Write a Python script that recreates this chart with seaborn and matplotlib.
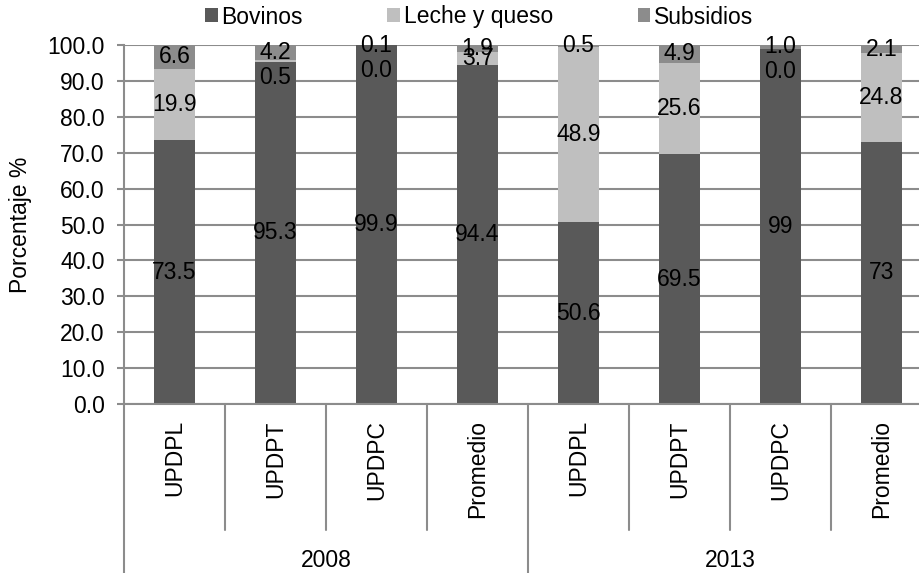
import numpy as np
import pandas as pd
import matplotlib
matplotlib.use("Agg")
import matplotlib.pyplot as plt
from matplotlib.patches import Patch
import seaborn as sns

# data
years = ["2008", "2013"]
units = ["UPDPL", "UPDPT", "UPDPC", "Promedio"]
bovinos = [73.5, 95.3, 99.9, 94.4, 50.6, 69.5, 99.0, 73.0]
bovinos_labels = ["73.5", "95.3", "99.9", "94.4", "50.6", "69.5", "99", "73"]
leche = [19.9, 0.5, 0.0, 3.7, 48.9, 25.6, 0.0, 24.8]
subsidios = [6.6, 4.2, 0.1, 1.9, 0.5, 4.9, 1.0, 2.1]
series_names = ["Bovinos", "Leche y queso", "Subsidios"]
colors = ["#595959", "#bfbfbf", "#8c8c8c"]
grid_color = "#8c8c8c"

sns.set_style("white")
plt.rcParams['font.family'] = ['Liberation Sans', 'DejaVu Sans']
plt.rcParams['text.color'] = 'black'
plt.rcParams['ytick.labelcolor'] = 'black'
fs = 16.5

keys = [y + " " + u for y in years for u in units]
df = pd.DataFrame({"key": keys, "Bovinos": bovinos, "Leche": leche, "Subsidios": subsidios})
df["top1"] = df["Bovinos"]
df["top2"] = df["Bovinos"] + df["Leche"]
df["top3"] = df["top2"] + df["Subsidios"]

fig = plt.figure(figsize=(9.2, 5.73), dpi=100)
ax = fig.add_axes([124 / 920, 169 / 573, 808 / 920, 359 / 573])

# stacked look: draw cumulative totals from the tallest down
for col, c in zip(["top3", "top2", "top1"], colors[::-1]):
    sns.barplot(data=df, x="key", y=col, order=keys, color=c, width=0.4,
                saturation=1, errorbar=None, linewidth=0, ax=ax, zorder=2)

ax.set_xlim(-0.5, 7.5)
ax.set_ylim(0, 100)
ax.set_yticks(np.arange(0, 101, 10))
ax.set_yticklabels([f"{v:.1f}" for v in np.arange(0, 101, 10)], fontsize=fs, color="black")
ax.yaxis.grid(True, color=grid_color, linewidth=1.5)
ax.set_axisbelow(True)
ax.tick_params(axis="y", length=5, width=1.5, color=grid_color, pad=9, left=True)
ax.tick_params(axis="x", length=0, labelbottom=False)
ax.set_xlabel("")
ax.set_ylabel("")
for s in ["top", "right"]:
    ax.spines[s].set_visible(False)
for s in ["left", "bottom"]:
    ax.spines[s].set_color(grid_color)
    ax.spines[s].set_linewidth(1.5)

# segment labels
for i in range(len(keys)):
    b, l, s = bovinos[i], leche[i], subsidios[i]
    y_b = b / 2
    y_l = b + l / 2
    y_s = b + l + s / 2
    if l < 1:
        y_l = y_s - 7
    ax.text(i, y_b, bovinos_labels[i], ha="center", va="center", fontsize=fs, zorder=5)
    ax.text(i, y_l, f"{l:.1f}", ha="center", va="center", fontsize=fs, zorder=5)
    ax.text(i, y_s, f"{s:.1f}", ha="center", va="center", fontsize=fs, zorder=5)

# two-level category axis
trans = ax.get_xaxis_transform()
for j in range(len(keys) + 1):
    x = j - 0.5
    bottom = -0.48 if j % 4 == 0 else -0.351
    ax.plot([x, x], [0, bottom], transform=trans, color=grid_color,
            linewidth=1.5, clip_on=False)
for i, k in enumerate(keys):
    ax.text(i, -0.045, units[i % 4], transform=trans, rotation=90,
            ha="center", va="top", fontsize=fs)
for g, y in enumerate(years):
    ax.text(g * 4 + 1.5, -0.435, y, transform=trans, ha="center", va="center", fontsize=fs)

fig.text(21 / 920, 1 - 224.5 / 573, "Porcentaje %", rotation=90,
         ha="center", va="center", fontsize=fs)

handles = [Patch(facecolor=c, edgecolor="none") for c in colors]
fig.legend(handles, series_names, loc="center", bbox_to_anchor=(479 / 920, 1 - 17 / 573),
           ncol=3, frameon=False, fontsize=fs, handlelength=0.55, handleheight=0.55,
           handletextpad=0.15, columnspacing=3.7, borderpad=0, borderaxespad=0)

fig.savefig("out.png", dpi=100)
